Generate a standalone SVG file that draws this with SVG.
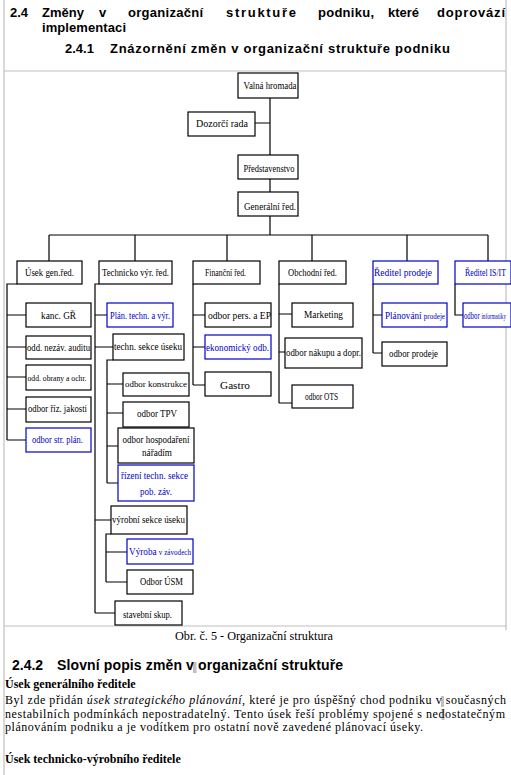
<svg xmlns="http://www.w3.org/2000/svg" width="511" height="775" viewBox="0 0 511 775">
<style>
.bg{fill:#fff}
.frame{stroke:#c0c0c0;stroke-width:1.2;fill:none}
.h{font-family:"Liberation Sans",Arial,sans-serif;font-weight:bold;fill:#000}
.box{fill:#fff;stroke:#000;stroke-width:1.2}
.bbox{fill:#fff;stroke:#0000c8;stroke-width:1.2}
.t{font-family:"Liberation Serif","Times New Roman",serif;font-size:11px;fill:#000;text-anchor:middle}
.bt{font-family:"Liberation Serif","Times New Roman",serif;font-size:11px;fill:#0000c8;text-anchor:middle}
.l{text-anchor:start}
.s{font-size:8.5px}
.con{stroke:#000;stroke-width:1.2;fill:none}
.body{font-family:"Liberation Serif","Times New Roman",serif;font-size:12px;fill:#000}
.mark{fill:#c0c0c0}
</style>
<rect class="bg" x="0" y="0" width="511" height="775"/>
<g id="frame">
<line class="frame" x1="4" y1="0" x2="4" y2="775"/>
<line class="frame" x1="506" y1="0" x2="506" y2="630"/>
<line class="frame" x1="4" y1="71" x2="506" y2="71"/>
<line class="frame" x1="4" y1="626" x2="506" y2="626"/>
</g>
<g id="headings">
<text class="h" font-size="13" x="10" y="17">2.4</text>
<text class="h" font-size="13" x="42" y="17">Změny</text>
<text class="h" font-size="13" x="99" y="17">v</text>
<text class="h" font-size="13" x="128" y="17" textLength="75">organizační</text>
<text class="h" font-size="13" x="226" y="17" textLength="70">struktuře</text>
<text class="h" font-size="13" x="318" y="17" textLength="56">podniku,</text>
<text class="h" font-size="13" x="388" y="17">které</text>
<text class="h" font-size="13" x="437" y="17" textLength="68">doprovází</text>
<text class="h" font-size="13" x="42" y="32" textLength="84">implementaci</text>
<text class="h" font-size="13" x="65" y="53">2.4.1</text>
<text class="h" font-size="13" x="110" y="53" textLength="340">Znázornění změn v organizační struktuře podniku</text>
</g>
<g id="connectors">
<path class="con" d="M270,98V155M255,123H270M270,179V192M270,216V235M49,235H488M49,235V261M135,235V261M227,235V261M312,235V261M407,235V261M488,235V261"/>
<path class="con" d="M17,284H7V440M7,315H26M7,347H26M7,377H26M7,409H26M7,440H26"/>
<path class="con" d="M99,284H95V613M95,315H107M95,347H113M95,520H111M95,613H115"/>
<path class="con" d="M113,360H107V483M107,384H123M107,413H123M107,446H118M107,483H118"/>
<path class="con" d="M111,534H106V582M106,552H127M106,582H127"/>
<path class="con" d="M193,284V385M193,315H205M193,347H205M193,385H205"/>
<path class="con" d="M279,284V403M279,314H292M279,352H285M279,403H292"/>
<path class="con" d="M373,284V353M373,315H382M373,353H382"/>
<path class="con" d="M455,284V315H463"/>
</g>
<g id="valna"><rect class="box" x="238" y="73" width="60" height="25"/><text class="t" x="270" y="89" textLength="53" lengthAdjust="spacingAndGlyphs">Valná hromada</text></g>
<g id="dozorci"><rect class="box" x="188" y="112" width="67" height="24"/><text class="t" x="222" y="127" textLength="52" lengthAdjust="spacingAndGlyphs">Dozorčí rada</text></g>
<g id="predstavenstvo"><rect class="box" x="238" y="155" width="60" height="24"/><text class="t" x="269" y="172" textLength="51" lengthAdjust="spacingAndGlyphs">Představenstvo</text></g>
<g id="generalni"><rect class="box" x="238" y="192" width="60" height="24"/><text class="t" x="270" y="210" textLength="52" lengthAdjust="spacingAndGlyphs">Generální řed.</text></g>
<g id="usek-gen"><rect class="box" x="17" y="261" width="65" height="23"/><text class="t" x="49.5" y="276" textLength="49" lengthAdjust="spacingAndGlyphs">Úsek gen.řed.</text></g>
<g id="technicko"><rect class="box" x="99" y="261" width="73" height="23"/><text class="t" x="135.5" y="276" textLength="67" lengthAdjust="spacingAndGlyphs">Technicko výr. řed.</text></g>
<g id="financni"><rect class="box" x="193" y="261" width="67" height="23"/><text class="t" x="225.5" y="276" textLength="41" lengthAdjust="spacingAndGlyphs">Finanční řed.</text></g>
<g id="obchodni"><rect class="box" x="279" y="261" width="67" height="23"/><text class="t" x="312.5" y="276" textLength="49" lengthAdjust="spacingAndGlyphs">Obchodní řed.</text></g>
<g id="reditel-prodeje"><rect class="bbox" x="373" y="261" width="65" height="23"/><text class="bt" x="403" y="276" textLength="58" lengthAdjust="spacingAndGlyphs">Ředitel prodeje</text></g>
<g id="reditel-isit"><rect class="bbox" x="455" y="261" width="56" height="23"/><text class="bt l" x="465" y="276" textLength="41" lengthAdjust="spacingAndGlyphs">Ředitel IS/IT</text></g>
<g id="kanc-gr"><rect class="box" x="26" y="303" width="65" height="24"/><text class="t" x="58.5" y="319" textLength="35" lengthAdjust="spacingAndGlyphs">kanc. GŘ</text></g>
<g id="odd-audit"><rect class="box" x="26" y="336" width="65" height="23"/><text class="t" x="58.5" y="351" textLength="63" lengthAdjust="spacingAndGlyphs">odd. nezáv. auditu</text></g>
<g id="odd-obrany"><rect class="box" x="26" y="365" width="65" height="25"/><text class="t s" x="57" y="381" textLength="59" lengthAdjust="spacingAndGlyphs">odd. obrany a ochr.</text></g>
<g id="odbor-jakosti"><rect class="box" x="26" y="397" width="65" height="25"/><text class="t" x="57.5" y="412" textLength="59" lengthAdjust="spacingAndGlyphs">odbor říz. jakosti</text></g>
<g id="odbor-str-plan"><rect class="bbox" x="26" y="428" width="65" height="24"/><text class="bt" x="57.5" y="443" textLength="51" lengthAdjust="spacingAndGlyphs">odbor str. plán.</text></g>
<g id="plan-techn"><rect class="bbox" x="107" y="303" width="66" height="24"/><text class="bt" x="140" y="319" textLength="60" lengthAdjust="spacingAndGlyphs">Plán. techn. a výr.</text></g>
<g id="techn-sekce"><rect class="box" x="113" y="334" width="71" height="26"/><text class="t" x="148" y="350" textLength="68" lengthAdjust="spacingAndGlyphs">techn. sekce úseku</text></g>
<g id="odbor-konstrukce"><rect class="box" x="123" y="373" width="66" height="23"/><text class="t s" x="156" y="387" textLength="62" lengthAdjust="spacingAndGlyphs">odbor konstrukce</text></g>
<g id="odbor-tpv"><rect class="box" x="123" y="402" width="66" height="25"/><text class="t" x="157" y="417" textLength="40" lengthAdjust="spacingAndGlyphs">odbor TPV</text></g>
<g id="odbor-hosp"><rect class="box" x="118" y="428" width="76" height="35"/><text class="t" x="156" y="443" textLength="67" lengthAdjust="spacingAndGlyphs">odbor hospodaření</text><text class="t" x="157" y="456" textLength="30" lengthAdjust="spacingAndGlyphs">nářadím</text></g>
<g id="rizeni-techn"><rect class="bbox" x="118" y="465" width="76" height="36"/><text class="bt" x="154.5" y="479" textLength="67" lengthAdjust="spacingAndGlyphs">řízení techn. sekce</text><text class="bt" x="156" y="495" textLength="32" lengthAdjust="spacingAndGlyphs">pob. záv.</text></g>
<g id="vyrobni-sekce"><rect class="box" x="111" y="506" width="76" height="28"/><text class="t" x="148.5" y="523" textLength="73" lengthAdjust="spacingAndGlyphs">výrobní sekce úseku</text></g>
<g id="vyroba-zavody"><rect class="bbox" x="127" y="539" width="66" height="25"/><text class="bt l" x="129" y="555" textLength="62" lengthAdjust="spacingAndGlyphs">Výroba <tspan class="s">v závodech</tspan></text></g>
<g id="odbor-usm"><rect class="box" x="127" y="570" width="66" height="24"/><text class="t" x="161.5" y="585" textLength="43" lengthAdjust="spacingAndGlyphs">Odbor ÚSM</text></g>
<g id="stavebni"><rect class="box" x="115" y="601" width="67" height="24"/><text class="t" x="147.5" y="618" textLength="49" lengthAdjust="spacingAndGlyphs">stavební skup.</text></g>
<g id="odbor-pers"><rect class="box" x="205" y="303" width="66" height="24"/><text class="t" x="239.5" y="319" textLength="63" lengthAdjust="spacingAndGlyphs">odbor pers. a EP</text></g>
<g id="ekonomicky"><rect class="bbox" x="205" y="335" width="66" height="24"/><text class="bt" x="237.5" y="351" textLength="63" lengthAdjust="spacingAndGlyphs">ekonomický odb.</text></g>
<g id="gastro"><rect class="box" x="205" y="372" width="66" height="24"/><text class="t" x="235" y="389" textLength="30" lengthAdjust="spacingAndGlyphs">Gastro</text></g>
<g id="marketing"><rect class="box" x="292" y="303" width="61" height="24"/><text class="t" x="323.5" y="318" textLength="39" lengthAdjust="spacingAndGlyphs">Marketing</text></g>
<g id="odbor-nakupu"><rect class="box" x="285" y="338" width="77" height="30"/><text class="t" x="323.5" y="356" textLength="75" lengthAdjust="spacingAndGlyphs">odbor nákupu a dopr.</text></g>
<g id="odbor-ots"><rect class="box" x="292" y="385" width="61" height="23"/><text class="t" x="321.5" y="400" textLength="33" lengthAdjust="spacingAndGlyphs">odbor OTS</text></g>
<g id="planovani-prodeje"><rect class="bbox" x="382" y="303" width="65" height="24"/><text class="bt l" x="385" y="319" textLength="60" lengthAdjust="spacingAndGlyphs">Plánování <tspan class="s">prodeje</tspan></text></g>
<g id="odbor-prodeje"><rect class="box" x="382" y="342" width="65" height="24"/><text class="t" x="413.5" y="357" textLength="49" lengthAdjust="spacingAndGlyphs">odbor prodeje</text></g>
<g id="odbor-informatiky"><rect class="bbox" x="463" y="303" width="48" height="24"/><text class="bt l" x="464" y="319" textLength="42" lengthAdjust="spacingAndGlyphs">odbor <tspan class="s">informatiky</tspan></text></g>
<g id="caption"><text class="body" x="254" y="640" text-anchor="middle" textLength="158" lengthAdjust="spacingAndGlyphs">Obr. č. 5 - Organizační struktura</text></g>
<g id="text-section">
<rect class="mark" x="193" y="662" width="3.5" height="11"/>
<text class="h" font-size="14" x="12" y="670">2.4.2</text>
<text class="h" font-size="14" x="57" y="670" textLength="286">Slovní popis změn v organizační struktuře</text>
<text class="body" font-weight="bold" x="5" y="688">Úsek generálního ředitele</text>
<rect class="mark" x="441" y="696" width="3" height="11"/>
<rect class="mark" x="441.5" y="709" width="3" height="11"/>
<text class="body" x="5" y="704" textLength="501">Byl zde přidán <tspan font-style="italic">úsek strategického plánování</tspan>, které je pro úspěšný chod podniku v současných</text>
<text class="body" x="5" y="718" textLength="500">nestabilních podmínkách nepostradatelný. Tento úsek řeší problémy spojené s nedostatečným</text>
<text class="body" x="5" y="731" textLength="418">plánováním podniku a je vodítkem pro ostatní nově zavedené plánovací úseky.</text>
<text class="body" font-weight="bold" x="5" y="763">Úsek technicko-výrobního ředitele</text>
</g>
</svg>
